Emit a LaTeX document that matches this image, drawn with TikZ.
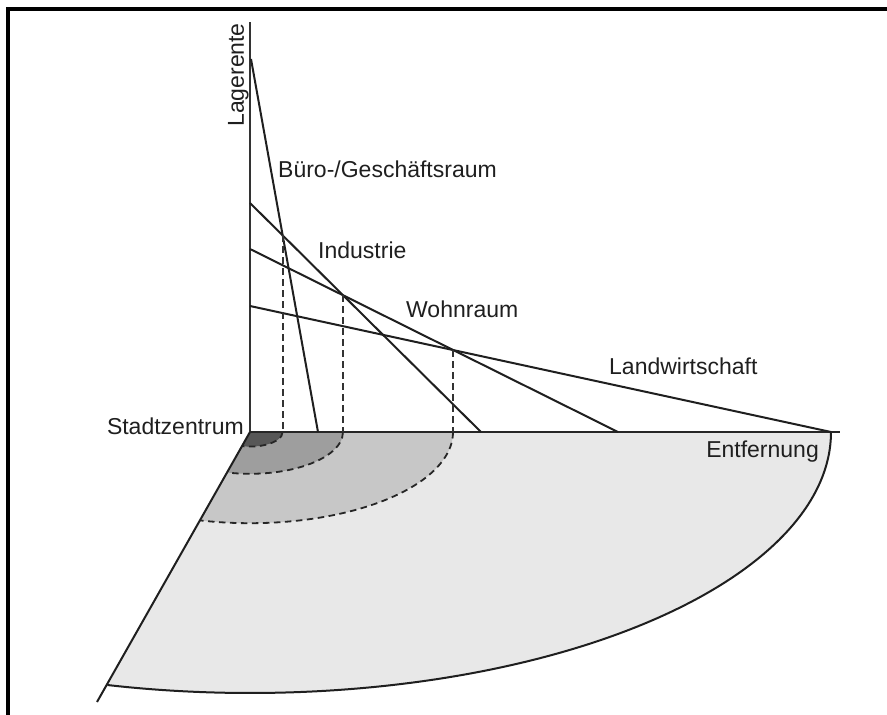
\documentclass[tikz,border=0pt]{standalone}
\usepackage{fontspec}
\setmainfont{Liberation Sans}
\usetikzlibrary{intersections}
\begin{document}
\begin{tikzpicture}[x=1pt,y=1pt,
  lbl/.style={font=\fontsize{23}{27}\selectfont, inner sep=0pt, text=black!88},
  rentline/.style={line width=2pt, black!88},
  guide/.style={line width=1.7pt, dash pattern=on 6.5pt off 4.5pt, black!80},
  ring/.style={line width=1.8pt, dash pattern=on 6.5pt off 4.5pt, black!85},
  zone/.style={start angle=0, end angle=-104.2}]
\useasboundingbox (-250,-283) rectangle (637,432);

% frame
\draw[line width=3.2pt] (-242,-283) -- (-242,423) -- (637,423);

\coordinate (o) at (0,0);

% land-use zones as a sector seen in perspective
\fill[black!9]  (o) -- (581,0) arc[zone, x radius=581, y radius=261]  -- cycle;
\fill[black!22] (o) -- (203,0) arc[zone, x radius=203, y radius=91.2] -- cycle;
\fill[black!38] (o) -- (93,0)  arc[zone, x radius=93,  y radius=41.8] -- cycle;
\fill[black!66] (o) -- (32.6,0) arc[zone, x radius=32.6, y radius=14.6] -- cycle;
\draw[ring] (203,0)  arc[zone, x radius=203, y radius=91.2];
\draw[ring] (93,0)   arc[zone, x radius=93,  y radius=41.8];
\draw[ring] (32.6,0) arc[zone, x radius=32.6, y radius=14.6];
\draw[rentline] (581,0) arc[zone, x radius=581, y radius=261];
\draw[rentline] (o) -- (-153,-270);

% axes
\draw[line width=2pt, black!80] (o) -- (0,410);
\draw[line width=2.8pt, black!85] (o) -- (590,0);

% bid-rent lines
\draw[rentline, name path=buero] (1,373) -- (68,0);
\draw[rentline, name path=indu]  (0,229) -- (231,0);
\draw[rentline, name path=wohn]  (0,183) -- (368,0);
\draw[rentline, name path=land]  (0,126) -- (581,0);

\path[name intersections={of=buero and indu, by=i1}];
\path[name intersections={of=indu and wohn, by=i2}];
\path[name intersections={of=wohn and land, by=i3}];
\draw[guide] (i1) -- (i1 |- o);
\draw[guide] (i2) -- (i2 |- o);
\draw[guide] (i3) -- (i3 |- o);

% labels
\node[lbl, rotate=90, anchor=base east] (yax) at (-6,409) {Lagerente};
\node[lbl, anchor=base west] (tb) at (28,254) {Büro-/Geschäftsraum};
\node[lbl, anchor=base west] (ti) at (68,173) {Industrie};
\node[lbl, anchor=base west] (tw) at (156,114) {Wohnraum};
\node[lbl, anchor=base west] (tl) at (359,57) {Landwirtschaft};
\node[lbl, anchor=base east] (tc) at (-6,-3) {Stadtzentrum};
\node[lbl, anchor=base east] (te) at (569,-26) {Entfernung};
\end{tikzpicture}
\end{document}
